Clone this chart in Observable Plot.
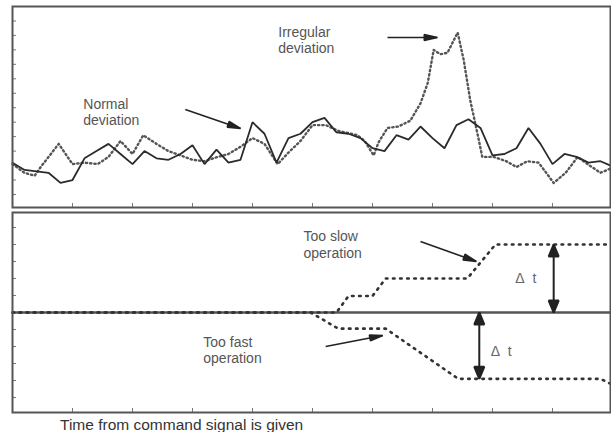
<!DOCTYPE html>
<html>
<head>
<meta charset="utf-8">
<script src="https://cdn.jsdelivr.net/npm/d3@7"></script>
<script src="https://cdn.jsdelivr.net/npm/@observablehq/plot@0.6"></script>
<style>
  html, body { margin: 0; padding: 0; background: #fff; overflow: hidden; }
  #chart svg { display: block; }
  #caption { font-family: "Liberation Sans", Arial, sans-serif; font-size: 15.5px; color: #333;
             padding-left: 60px; margin-top: 2px; line-height: 15px; height: 15px; }
</style>
</head>
<body>
<div id="chart"></div>
<div id="caption">Time from command signal is given</div>
<script>
// ---------- data (time in tick units, values in tick units) ----------
const solidT = [0,0.2,0.4,0.6,0.8,1.0,1.2,1.4,1.6,1.8,2.0,2.2,2.4,2.6,2.8,3.0,3.2,3.4,3.6,3.8,
                4.0,4.2,4.4,4.6,4.8,5.0,5.2,5.4,5.6,5.8,6.0,6.2,6.4,6.6,6.8,7.0,7.2,7.4,7.6,7.8,
                8.0,8.2,8.4,8.6,8.8,9.0,9.2,9.4,9.6,9.8,9.97];
const solidV = [2.2,1.7,1.6,1.5,0.8,1.0,2.5,3.0,3.5,2.8,2.1,3.0,2.5,2.4,2.8,3.4,2.1,3.1,2.2,2.4,
                5.0,4.2,2.2,3.9,4.2,5.0,5.3,4.3,4.2,3.9,3.2,3.0,4.1,3.8,4.7,3.9,3.2,4.8,5.2,4.6,
                2.7,2.8,3.2,4.6,3.5,2.1,2.8,2.6,2.2,2.3,2.0];
const dotT = [0,0.2,0.37,0.47,0.77,1.0,1.2,1.42,1.6,1.8,2.0,2.18,2.4,2.6,2.8,3.0,3.2,3.42,3.6,3.8,
              4.0,4.2,4.42,4.6,4.8,5.0,5.22,5.43,5.75,5.87,6.02,6.1,6.25,6.43,6.63,6.8,6.92,7.02,7.13,7.25,
              7.42,7.52,7.63,7.75,7.83,8.02,8.23,8.4,8.58,8.77,9.02,9.22,9.42,9.62,9.8,9.97];
const dotV = [2.1,1.5,1.3,1.9,3.5,2.1,2.2,2.1,2.6,3.7,2.8,4.1,3.5,3.0,2.7,2.4,2.3,2.6,2.8,3.3,
              3.9,3.5,2.1,2.9,3.7,4.8,4.8,4.4,4.1,3.7,2.7,3.6,4.6,4.7,5.1,6.3,7.7,10.0,9.7,9.8,
              11.2,9.3,6.5,4.2,2.6,2.6,2.3,1.9,2.3,2.2,0.8,1.5,2.6,2.0,1.5,1.8];

const slowT = [0, 5.4, 5.6, 6.0, 6.22, 7.58, 8.05, 9.97];
const slowV = [0, 0, 0.97, 0.97, 2.0, 2.0, 4.0, 4.0];
const fastT = [0, 4.97, 5.43, 6.22, 7.43, 9.8, 9.97];
const fastV = [0, 0, -0.95, -0.95, -3.9, -3.9, -4.2];

const xTicks = [1,2,3,4,5,6,7,8,9];
const topYTicks = [0,1,2,3,4,5,6,7,8,9,10,11,12];
const lowYTicks = [-5,-4,-3,-2,-1,1,2,3,4,5];

const topLabels = [
  {t: 4.43, v: 10.67, text: "Irregular\ndeviation"},
  {t: 1.18, v: 5.74, text: "Normal\ndeviation"}
];
const topArrows = [
  {t1: 2.88, v1: 5.88, t2: 3.8, v2: 4.56},
  {t1: 6.25, v1: 10.86, t2: 7.08, v2: 10.86}
];
const lowLabels = [
  {t: 4.85, v: 4.03, text: "Too slow\noperation"},
  {t: 3.18, v: -2.18, text: "Too fast\noperation"}
];
const lowArrows = [
  {t1: 6.8, v1: 4.18, t2: 7.73, v2: 3.0},
  {t1: 5.22, v1: -2.0, t2: 6.17, v2: -1.35}
];
const deltaArrows = [
  {t: 9.02, v1: 0, v2: 4.0},
  {t: 7.78, v1: 0, v2: -3.9}
];
const deltaLabels = [
  {t: 8.38, v: 2.0},
  {t: 7.97, v: -2.29}
];

// ---------- helpers ----------
function makeHead(len, half) {
  return (color) => {
    const m = d3.create("svg:marker")
      .attr("viewBox", `${-len} ${-half} ${len} ${2 * half}`)
      .attr("markerUnits", "userSpaceOnUse")
      .attr("markerWidth", len)
      .attr("markerHeight", 2 * half)
      .attr("refX", 0).attr("refY", 0)
      .attr("orient", "auto-start-reverse")
      .attr("overflow", "visible");
    m.append("path").attr("d", `M${-len},${-half}L0,0L${-len},${half}Z`).attr("fill", color);
    return m.node();
  };
}
const thinHead = makeHead(13, 3);
const wideHead = makeHead(12, 5);

const FONT = "'Liberation Sans', Arial, sans-serif";
const frameW = 611 - 12 - 1;

const solid = solidT.map((t, i) => ({t, v: solidV[i]}));
const dotted = dotT.map((t, i) => ({t, v: dotV[i]}));
const slow = slowT.map((t, i) => ({t, v: slowV[i]}));
const fast = fastT.map((t, i) => ({t, v: fastV[i]}));

const topPlot = Plot.plot({
  width: 611, height: 210,
  marginLeft: 12, marginRight: 1, marginTop: 6, marginBottom: 3,
  x: {domain: [0, 9.967], axis: null},
  y: {domain: [-0.9, 13], axis: null},
  style: {fontFamily: FONT, background: "#fff", overflow: "visible"},
  marks: [
    Plot.tickY(topYTicks, {y: d => d, insetRight: frameW - 4, stroke: "#777", strokeWidth: 1}),
    Plot.tickX(xTicks, {x: d => d, insetTop: 197, stroke: "#777", strokeWidth: 1}),
    Plot.line(dotted, {x: "t", y: "v", stroke: "#555", strokeWidth: 2.4, strokeDasharray: "1.3,3"}),
    Plot.line(solid, {x: "t", y: "v", stroke: "#2b2b2b", strokeWidth: 1.8, strokeLinejoin: "miter"}),
    Plot.link(topArrows, {x1: "t1", y1: "v1", x2: "t2", y2: "v2", stroke: "#222", strokeWidth: 1.6, markerEnd: thinHead}),
    Plot.text(topLabels, {x: "t", y: "v", text: "text", textAnchor: "start", fontSize: 14, lineHeight: 1.15, fill: "#555"}),
    Plot.frame({stroke: "#555", strokeWidth: 2})
  ]
});

const lowPlot = Plot.plot({
  width: 611, height: 205,
  marginLeft: 12, marginRight: 1, marginTop: 2, marginBottom: 3,
  x: {domain: [0, 9.967], axis: null},
  y: {domain: [-5.88, 5.88], axis: null},
  style: {fontFamily: FONT, background: "#fff", overflow: "visible"},
  marks: [
    Plot.tickY(lowYTicks, {y: d => d, insetRight: frameW - 4, stroke: "#777", strokeWidth: 1}),
    Plot.tickX(xTicks, {x: d => d, insetTop: 196, stroke: "#777", strokeWidth: 1}),
    Plot.ruleY([0], {stroke: "#555", strokeWidth: 2.4}),
    Plot.line(slow, {x: "t", y: "v", stroke: "#333", strokeWidth: 2.6, strokeDasharray: "1.6,5.5"}),
    Plot.line(fast, {x: "t", y: "v", stroke: "#333", strokeWidth: 2.6, strokeDasharray: "1.6,5.5"}),
    Plot.link(lowArrows, {x1: "t1", y1: "v1", x2: "t2", y2: "v2", stroke: "#222", strokeWidth: 1.6, markerEnd: thinHead}),
    Plot.link(deltaArrows, {x1: "t", y1: "v1", x2: "t", y2: "v2", stroke: "#222", strokeWidth: 2, markerStart: wideHead, markerEnd: wideHead}),
    Plot.text(lowLabels, {x: "t", y: "v", text: "text", textAnchor: "start", fontSize: 14, lineHeight: 1.2, fill: "#555"}),
    Plot.text(deltaLabels, {x: "t", y: "v", text: () => "Δ\u00a0\u00a0t", textAnchor: "start", fontSize: 14, fill: "#666"}),
    Plot.frame({stroke: "#555", strokeWidth: 2})
  ]
});

document.getElementById("chart").append(topPlot, lowPlot);
</script>
</body>
</html>
